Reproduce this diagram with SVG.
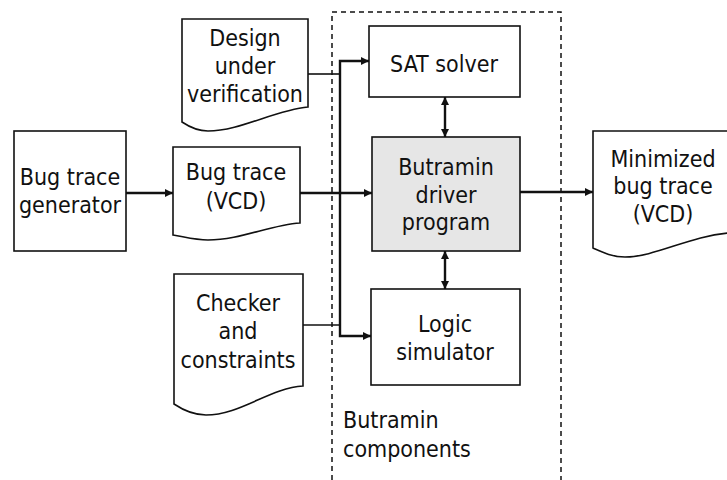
<svg xmlns="http://www.w3.org/2000/svg" width="727" height="480" viewBox="0 0 727 480">
<style>
.box{fill:#fff;stroke:#111;stroke-width:1.6}
.drv{fill:#e6e6e6;stroke:#111;stroke-width:1.6}
.t{font-family:"DejaVu Sans Condensed","DejaVu Sans",sans-serif;font-stretch:condensed;font-size:23px;fill:#111;text-anchor:middle}
.tl{text-anchor:start}
.c{fill:none;stroke:#111;stroke-width:2.4}
.thin{fill:none;stroke:#111;stroke-width:1.6}
.dash{fill:none;stroke:#111;stroke-width:1.5;stroke-dasharray:5 4}
</style>
<defs>
<marker id="ah" viewBox="0 0 10 10" refX="10" refY="5" markerWidth="9" markerHeight="8" markerUnits="userSpaceOnUse" orient="auto-start-reverse">
<path d="M0,0 L10,5 L0,10 Z" fill="#111"/>
</marker>
</defs>
<rect width="727" height="480" fill="#fff"/>
<path class="dash" d="M332,480 V12 H561 V480"/>
<g id="connectors">
<path class="c" d="M126,193 H173" marker-end="url(#ah)"/>
<path class="c" d="M300,193 H372" marker-end="url(#ah)"/>
<path class="thin" d="M308,74 H340"/>
<path class="thin" d="M303,325 H340"/>
<path class="c" d="M369,61 H340 V336 H371" marker-start="url(#ah)" marker-end="url(#ah)"/>
<path class="c" d="M445,97 V137" marker-start="url(#ah)" marker-end="url(#ah)"/>
<path class="c" d="M445,251 V289" marker-start="url(#ah)" marker-end="url(#ah)"/>
<path class="c" d="M520,192 H593" marker-end="url(#ah)"/>
</g>
<g id="generator">
<rect class="box" x="14" y="131" width="112" height="120"/>
<text class="t" x="70" y="185">Bug trace</text>
<text class="t" x="70" y="213">generator</text>
</g>
<g id="design">
<path class="box" d="M182,19 H308 V107 C275,110 240,131 208,131 C196,131 188,126 182,122 Z"/>
<text class="t" x="245" y="46">Design</text>
<text class="t" x="245" y="74">under</text>
<text class="t" x="245" y="102">verification</text>
</g>
<g id="bugtrace">
<path class="box" d="M173,147 H300 V223 C270,225 240,240 208,240 C195,240 185,237 173,235 Z"/>
<text class="t" x="236" y="180">Bug trace</text>
<text class="t" x="236" y="209">(VCD)</text>
</g>
<g id="checker">
<path class="box" d="M174,274 H303 V386 C270,388 240,415 206,415 C193,415 183,410 174,404 Z"/>
<text class="t" x="238" y="311">Checker</text>
<text class="t" x="238" y="339">and</text>
<text class="t" x="238" y="368">constraints</text>
</g>
<g id="sat">
<rect class="box" x="369" y="26" width="151" height="71"/>
<text class="t" x="444" y="72">SAT solver</text>
</g>
<g id="driver">
<rect class="drv" x="372" y="137" width="148" height="114"/>
<text class="t" x="446" y="175">Butramin</text>
<text class="t" x="446" y="203">driver</text>
<text class="t" x="446" y="230">program</text>
</g>
<g id="logic">
<rect class="box" x="371" y="289" width="149" height="96"/>
<text class="t" x="445" y="332">Logic</text>
<text class="t" x="445" y="360">simulator</text>
</g>
<g id="minimized">
<path class="box" d="M593,131 H729 V233 C690,236 655,257 625,257 C612,257 602,252 593,248 Z"/>
<text class="t" x="663" y="167">Minimized</text>
<text class="t" x="663" y="194">bug trace</text>
<text class="t" x="663" y="222">(VCD)</text>
</g>
<g id="components-label">
<text class="t tl" x="343" y="428">Butramin</text>
<text class="t tl" x="343" y="457">components</text>
</g>
</svg>
